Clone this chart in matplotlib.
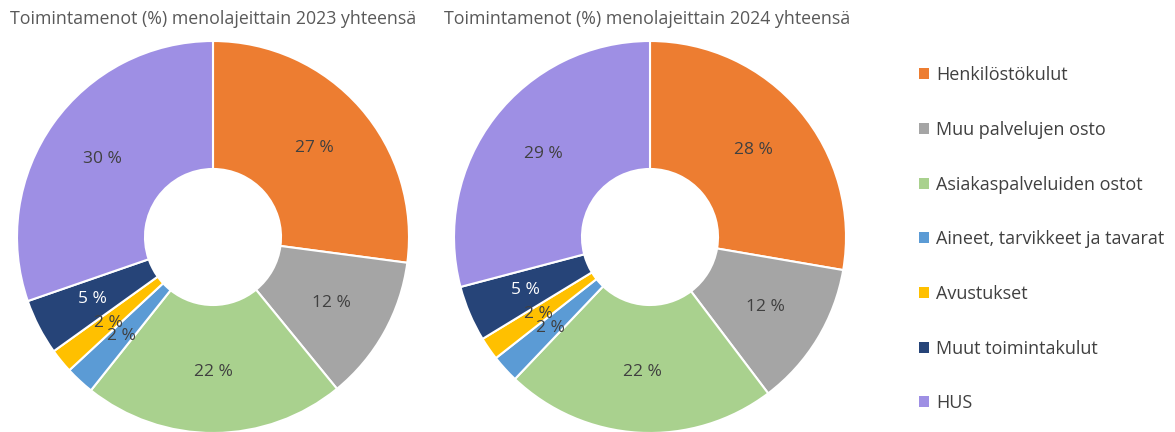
import matplotlib.pyplot as plt
from matplotlib.patches import Patch

plt.rcParams['font.family'] = ['Open Sans', 'DejaVu Sans']

categories = ['Henkilöstökulut', 'Muu palvelujen osto', 'Asiakaspalveluiden ostot',
              'Aineet, tarvikkeet ja tavarat', 'Avustukset', 'Muut toimintakulut', 'HUS']
share_2023 = [27.1, 12.0, 21.6, 2.4, 2.0, 4.6, 30.3]
share_2024 = [27.7, 12.0, 22.4, 2.3, 1.9, 4.6, 29.1]
titles = ['Toimintamenot (%) menolajeittain 2023 yhteensä',
          'Toimintamenot (%) menolajeittain 2024 yhteensä']

colors = ['#ED7D31', '#A5A5A5', '#A9D18E', '#5B9BD5', '#FFC000', '#264478', '#9E8FE4']
label_colors = ['#404040'] * 5 + ['white', '#404040']

W, H = 1175, 432
fig = plt.figure(figsize=(W / 100, H / 100), dpi=100)

# pie centres / radius in pixels
centres = [(213, 237), (650, 237)]
radius = 196
title_x = [10, 444]

for (cx, cy), vals, title, tx in zip(centres, [share_2023, share_2024], titles, title_x):
    ax = fig.add_axes([(cx - radius) / W, (H - cy - radius) / H,
                       2 * radius / W, 2 * radius / H])
    wedges, _, autotexts = ax.pie(vals, colors=colors, startangle=90, counterclock=False,
                                  autopct=lambda p: f'{p:.0f} %', pctdistance=0.69,
                                  wedgeprops=dict(width=0.653, edgecolor='white', linewidth=1.5),
                                  textprops=dict(fontsize=12.5))
    for t, c in zip(autotexts, label_colors):
        t.set_color(c)
    ax.set_xlim(-1, 1)
    ax.set_ylim(-1, 1)
    fig.text(tx / W, 1 - 19 / H, title, ha='left', va='center',
             fontsize=12.8, color='#595959')

handles = [Patch(facecolor=c, edgecolor='none') for c in colors]
fig.legend(handles, categories, loc='upper left', bbox_to_anchor=(903 / W, 1 - 50 / H),
           frameon=False, fontsize=13.0, labelcolor='#404040',
           handlelength=0.55, handleheight=0.55, handletextpad=0.4, labelspacing=2.03)

fig.savefig('out.png', dpi=100, facecolor='white')
